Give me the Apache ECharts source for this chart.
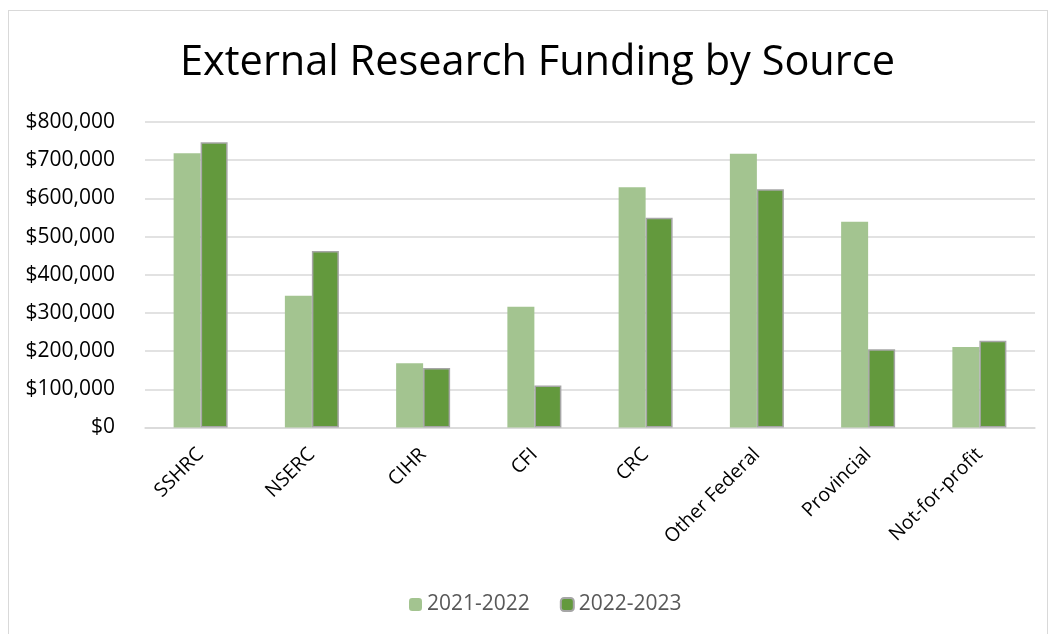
<!DOCTYPE html>
<html><head><meta charset="utf-8">
<script src="https://cdn.jsdelivr.net/npm/echarts@6/dist/echarts.min.js"></script>
<style>
html,body{margin:0;padding:0;background:#fff;}
#frame{position:absolute;left:8px;top:10px;width:1040px;height:630px;border:1px solid #d9d9d9;box-sizing:border-box;}
#chart{position:absolute;left:0;top:0;width:1052px;height:634px;}
</style></head>
<body>
<div id="frame"></div>
<div id="chart"></div>
<script>
const categories = ['SSHRC','NSERC','CIHR','CFI','CRC','Other Federal','Provincial','Not-for-profit'];
const seriesNames = ['2021-2022','2022-2023'];
const values2021 = [718000, 345000, 168000, 316000, 629000, 717000, 539000, 211000];
const values2022 = [747000, 462000, 156000, 110000, 549000, 624000, 205000, 227000];
const yTicks = { min: 0, max: 800000, interval: 100000 };

const FONT = 'Open Sans';
const chart = echarts.init(document.getElementById('chart'));
chart.setOption({
  animation: false,
  title: {
    text: 'External Research Funding by Source',
    left: 175, top: 37,
    textStyle: { fontFamily: FONT, fontSize: 41.5, fontWeight: 'normal', color: '#000' }
  },
  legend: {
    bottom: 14, left: 404,
    itemWidth: 13, itemHeight: 13, itemGap: 30,
    textStyle: { fontFamily: FONT, fontSize: 21, color: '#595959' },
    data: seriesNames
  },
  grid: { left: 145, right: 17, top: 122, bottom: 206.5 },
  xAxis: {
    type: 'category', data: categories,
    axisLine: { lineStyle: { color: '#d9d9d9', width: 1.5 } },
    axisTick: { show: false },
    axisLabel: { rotate: 45, fontFamily: FONT, fontSize: 19.5, color: '#000', margin: 24, interval: 0 }
  },
  yAxis: {
    type: 'value', min: yTicks.min, max: yTicks.max, interval: yTicks.interval,
    axisLine: { show: false }, axisTick: { show: false },
    splitLine: { lineStyle: { color: '#d9d9d9', width: 1.5 } },
    axisLabel: {
      fontFamily: FONT, fontSize: 21, color: '#000', margin: 30,
      formatter: v => '$' + v.toLocaleString('en-US')
    }
  },
  series: [
    { name: seriesNames[0], type: 'bar', data: values2021, barWidth: 27, barGap: '0%',
      itemStyle: { color: '#a3c490' } },
    { name: seriesNames[1], type: 'bar', data: values2022, barWidth: 27, barGap: '0%',
      itemStyle: { color: '#63993d', borderColor: '#a6a6a6', borderWidth: 1.5 } }
  ]
});
</script>
</body></html>
